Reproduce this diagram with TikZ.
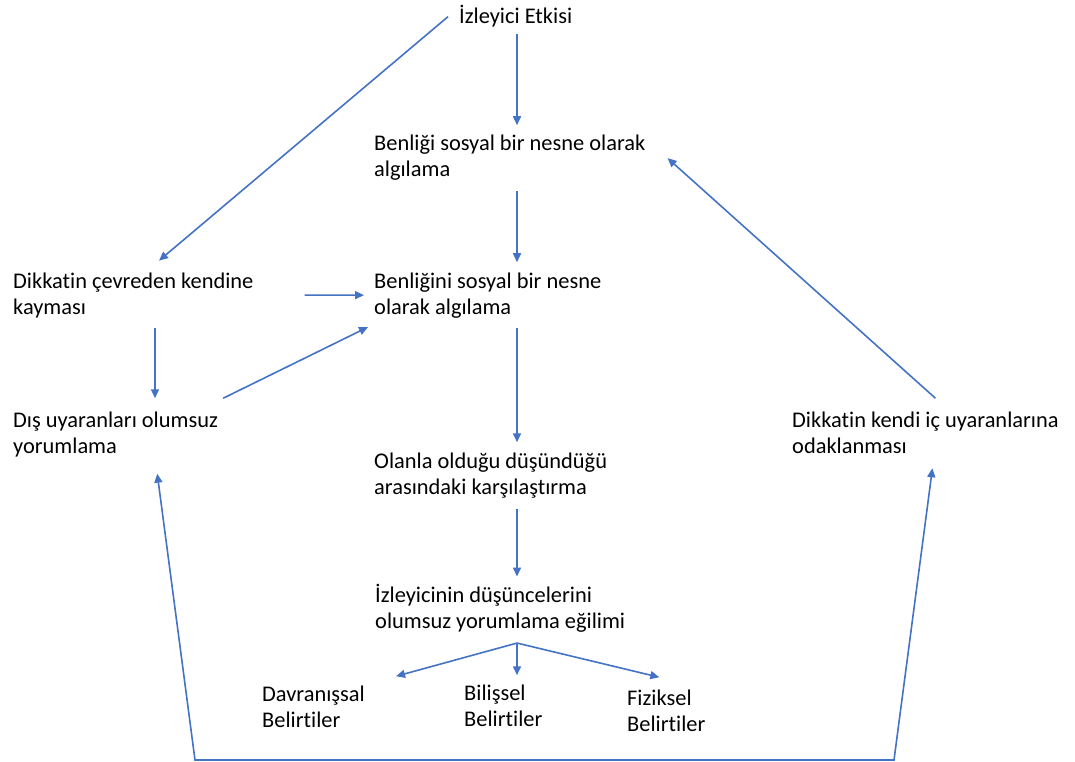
\documentclass[tikz,border=0pt]{standalone}
\usepackage{fontspec}
\setmainfont{Carlito}[Ligatures=NoCommon]
\usetikzlibrary{arrows.meta}
\definecolor{okmavi}{HTML}{4472C4}

\begin{document}
\begin{tikzpicture}[x=1pt,y=-1pt,
			kutu/.style={anchor=base west,align=left,inner sep=0pt,font=\fontsize{22.4}{26}\selectfont},
			ok/.style={draw=okmavi,line width=1.6pt,-{Triangle[length=9pt,width=8pt]},shorten <=10pt,shorten >=10pt}]
			\useasboundingbox (0,0) rectangle (1075,762);
			\coordinate (mid) at (517,0);
			\coordinate (sol) at (155,0);
			\coordinate (bl) at (195,760);
			\coordinate (br) at (894,760);

			\node[kutu] (etki)    at (459,24)  {İzleyici Etkisi};
			\node[kutu] (benlik1) at (374,177) {Benliği sosyal bir nesne olarak\\algılama};
			\node[kutu] (kayma)   at (13,314)  {Dikkatin çevreden kendine\\kayması};
			\node[kutu] (benlik2) at (374,314) {Benliğini sosyal bir nesne\\olarak algılama};
			\node[kutu] (dis)     at (13,453)  {Dış uyaranları olumsuz\\yorumlama};
			\node[kutu] (ic)      at (792,453) {Dikkatin kendi iç uyaranlarına\\odaklanması};
			\node[kutu] (karsi)   at (374,494) {Olanla olduğu düşündüğü\\arasındaki karşılaştırma};
			\node[kutu] (egilim)  at (375,628) {İzleyicinin düşüncelerini\\olumsuz yorumlama eğilimi};
			\node[kutu] (davr)    at (262,727) {Davranışsal\\Belirtiler};
			\node[kutu] (bilis)   at (464,726) {Bilişsel\\Belirtiler};
			\node[kutu] (fiz)     at (627,731) {Fiziksel\\Belirtiler};

			\draw[ok, shorten <=0pt, shorten >=18pt] ([xshift=-11pt]etki.west) -- ([xshift=12pt]kayma.north);
			\draw[ok, shorten <=6pt] (etki.south -| mid) -- (benlik1.north -| mid);
			\draw[ok] (benlik1.south -| mid) -- (benlik2.north -| mid);
			\draw[ok, shorten <=51pt] (kayma.east) -- (benlik2.west);
			\draw[ok, shorten >=13pt] (kayma.south -| sol) -- (dis.north -| sol);
			\draw[ok, shorten <=0pt, shorten >=0pt] ([shift={(5,-13)}]dis.north east) -- ([shift={(-6,9)}]benlik2.south west);
			\draw[ok] (benlik2.south -| mid) -- (karsi.north -| mid);
			\draw[ok, shorten <=11pt, shorten >=7pt] (karsi.south -| mid) -- (egilim.north -| mid);
			\draw[ok, shorten <=0pt, shorten >=0pt] ([shift={(10,-13)}]ic.north) -- ([xshift=22pt]benlik1.east);

			\path (egilim.south -| mid) ++(0,11) coordinate (fan);
			\draw[ok, shorten <=0pt, shorten >=0pt] (fan) -- ([shift={(31,-9)}]davr.north east);
			\draw[ok, shorten <=0pt, shorten >=9pt] (fan) -- (bilis.north -| mid);
			\draw[ok, shorten <=0pt, shorten >=0pt] (fan) -- ([shift={(-7,-12)}]fiz.north);

			\draw[ok, {Triangle[length=9pt,width=8pt]}-{Triangle[length=9pt,width=8pt]}, shorten <=17pt, shorten >=15pt] (dis.south -| sol) -- (bl) -- (br) -- ([xshift=9pt]ic.south);
		\end{tikzpicture}
\end{document}
